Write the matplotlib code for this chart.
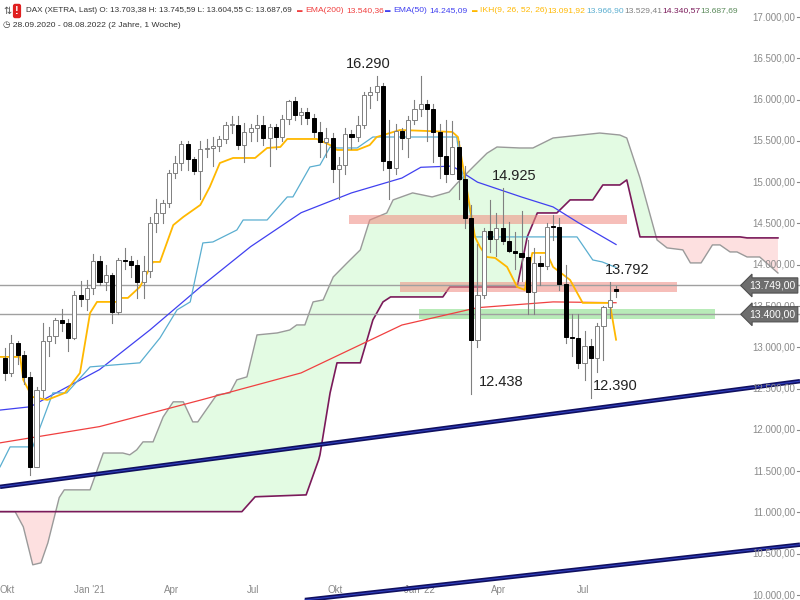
import matplotlib
matplotlib.use("Agg")
import matplotlib.pyplot as plt
from matplotlib.patches import Rectangle
import numpy as np

# ---- data: weekly DAX candles, 28.09.2020 - 08.08.2022 ----
opens = [12870, 12689, 13051, 12909, 12646, 11556, 12480, 13076, 13137, 13335, 13298, 13114, 13630, 13587,
         13719, 14049, 13787, 13873, 13432, 14056, 14050, 13993, 13786, 13920, 14502, 14621, 14749, 15107,
         15234, 15459, 15280, 15136, 15400, 15416, 15437, 15520, 15693, 15693, 15448, 15607, 15650, 15688,
         15540, 15669, 15544, 15761, 15977, 15808, 15852, 15781, 15609, 15490, 15531, 15156, 15206, 15587,
         15543, 15688, 16054, 16094, 16160, 15257, 15169, 15623, 15532, 15756, 15885, 15948, 15883, 15603,
         15318, 15100, 15425, 15042, 14567, 13094, 13628, 14413, 14306, 14446, 14284, 14164, 14142, 14098,
         13674, 14027, 13982, 14462, 14460, 13762, 13126, 13118, 12813, 13015, 12865, 13254, 13484, 13703]
closes = [12689, 13051, 12909, 12646, 11556, 12480, 13076, 13137, 13335, 13298, 13114, 13630, 13587, 13719,
          14049, 13787, 13873, 13432, 14056, 14050, 13993, 13786, 13920, 14502, 14621, 14749, 15107, 15234,
          15459, 15280, 15136, 15400, 15416, 15437, 15520, 15693, 15693, 15448, 15607, 15650, 15688, 15540,
          15669, 15544, 15761, 15977, 15808, 15852, 15781, 15609, 15490, 15531, 15156, 15206, 15587, 15543,
          15688, 16054, 16094, 16160, 15257, 15169, 15623, 15532, 15756, 15885, 15948, 15883, 15603, 15318,
          15100, 15425, 15042, 14567, 13094, 13628, 14413, 14306, 14446, 14284, 14164, 14142, 14098, 13674,
          14027, 13982, 14462, 14460, 13762, 13126, 13118, 12813, 13015, 12865, 13254, 13484, 13573, 13688]
highs = [12990, 13150, 13080, 12950, 12700, 12520, 13300, 13250, 13350, 13460, 13340, 13680, 13800, 13820,
         14130, 14100, 14000, 13900, 14080, 14200, 14110, 14060, 14100, 14580, 14800, 14780, 15150, 15320,
         15500, 15500, 15300, 15500, 15520, 15550, 15560, 15730, 15800, 15800, 15720, 15700, 15810, 15800,
         15700, 15700, 15810, 15990, 16030, 15900, 15900, 15830, 15730, 15650, 15590, 15300, 15650, 15630,
         15800, 16090, 16150, 16290, 16200, 15750, 15700, 15650, 15800, 16000, 16285, 16000, 15950, 15700,
         15750, 15740, 15500, 15200, 14720, 14250, 14450, 14780, 14630, 14925, 14520, 14400, 14650, 14300,
         14200, 14100, 14500, 14600, 14560, 14000, 13400, 13400, 13200, 13100, 13300, 13500, 13792, 13746]
lows = [12600, 12650, 12800, 12550, 11450, 11550, 12400, 12900, 13050, 13200, 12950, 13100, 13500, 13450,
        13650, 13750, 13700, 13300, 13400, 13950, 13850, 13600, 13600, 13850, 14400, 14500, 14700, 15050,
        15150, 15150, 15100, 14800, 15300, 15200, 15380, 15480, 15600, 15400, 15250, 15500, 15500, 15450,
        15200, 15400, 15500, 15700, 15750, 15700, 15700, 15550, 15300, 15300, 15000, 14800, 15100, 15400,
        15500, 15650, 15900, 16000, 15150, 14800, 15100, 15400, 15300, 15700, 15800, 15500, 15250, 15050,
        15000, 15100, 14800, 14450, 12438, 13000, 13600, 14150, 14100, 14250, 14150, 13950, 13800, 13400,
        13400, 13750, 13950, 14300, 13700, 13050, 12900, 12750, 12600, 12390, 12700, 12850, 13350, 13604]

# indicator lines: (week index, value)
ema200_w = [-0.8, 15, 31, 47, 63, 75, 87, 97]
ema200_v = [11843, 12040, 12360, 12690, 13270, 13480, 13550, 13540]
ema50_w = [-0.8, 4, 15, 23, 31, 39, 47, 55, 63, 66, 71, 75, 82, 87, 91, 97]
ema50_v = [12240, 12280, 12730, 13210, 13730, 14220, 14630, 14870, 15050, 15180, 15195, 15000, 14820, 14700, 14510, 14245]
tenkan_w = [-0.8, 2.4, 2.9, 4.3, 6.7, 9.5, 11.9, 13.5, 14.6, 17.8, 18.3, 19.5, 21.4, 23.5, 24.6, 26.7, 28.3, 31,
            32.5, 34.1, 36.2, 39.7, 41.6, 43.7, 44.8, 49.5, 51.6, 52.7, 55.9, 57.9, 59, 62.7, 71, 71.9, 74.6,
            75.4, 76.5, 77.8, 79.7, 81.3, 82.5, 83.7, 86, 87, 89.7, 91.7, 96, 97]
tenkan_v = [12884, 12884, 12605, 12400, 12363, 12448, 12690, 13416, 13550, 13550, 13598, 13598, 13731, 14034,
            14034, 14480, 14579, 14724, 14942, 15232, 15293, 15293, 15414, 15426, 15523, 15523, 15450, 15390,
            15390, 15450, 15547, 15632, 15608, 15547, 14337, 14215, 14094, 14082, 13973, 13731, 13695, 14143,
            14143, 13973, 13816, 13538, 13538, 13092]
kijun_w = [-0.8, 0.8, 4.4, 7.6, 9.8, 13.5, 21.4, 24.6, 27.3, 29.4, 31.4, 33, 36.8, 37.8, 41.6, 44.8, 45.7, 48.4,
           50, 51.6, 52.7, 55.9, 58.4, 71.7, 72.2, 74.6, 90.8, 93.3, 94.8, 97]
kijun_v = [11552, 11794, 11794, 12448, 12448, 12763, 12812, 13114, 13453, 13550, 14264, 14276, 14421, 14542,
           14542, 14821, 14821, 15184, 15208, 15426, 15414, 15414, 15547, 15547, 15270, 14337, 14337, 14058,
           14034, 13967]
spanA_w = [-0.8, 1.6, 2.9, 4.4, 5.7, 6.8, 8.6, 9.4, 13.5, 15.6, 18.7, 19.8, 20.9, 21.9, 23.5, 25.1, 26.7, 28.3,
           29.8, 30.6, 31.7, 33.6, 35.7, 36.8, 38.4, 40, 43.2, 45.2, 46.3, 47.6, 48.9, 50.5, 52.1, 54.3, 56.4,
           57.9, 60.6, 61.6, 64.7, 67.8, 70.5, 71.8, 74.3, 76.5, 78.1, 81.7, 83.8, 87, 94.4, 97.6, 98.7, 100.8,
           103.5, 105.1, 107.6, 108.8, 110.5, 112.3, 113.5, 115.1, 116.2, 117.8, 119.8, 122.7]
spanA_v = [11010, 11010, 10826, 10366, 10390, 10632, 11180, 11274, 11274, 11720, 11720, 11698, 11758, 11855,
           11855, 12157, 12340, 12340, 12097, 12097, 12218, 12424, 12448, 12606, 12642, 13150, 13174, 13210,
           13271, 13271, 13550, 13574, 13852, 14022, 14180, 14542, 14627, 14785, 14870, 14821, 14880, 14990,
           15184, 15350, 15426, 15414, 15414, 15535, 15595, 15571, 15535, 15050, 14300, 14204, 14180, 14022,
           14022, 14240, 14240, 14155, 14155, 14094, 14094, 13900]
spanB_w = [-0.8, 37.6, 39.7, 47.8, 49.8, 50, 51.6, 52.7, 56.4, 58.4, 60, 61.2, 69.5, 70.6, 81.3, 82.9, 84.5,
           87.6, 89.7, 93.3, 94.9, 97.6, 98.7, 100.8, 116.7, 117.8, 122.7]
spanB_v = [11010, 11010, 11190, 11213, 11640, 11700, 12448, 12812, 12812, 13332, 13550, 13610, 13610, 13731,
           13731, 14337, 14627, 14627, 14785, 14785, 14966, 14966, 15027, 14337, 14337, 14325, 14325]

# horizontal zones (value ranges) and levels
zones = [(54.6, 98.7, 14490, 14600, '#f08a80'), (62.7, 106.7, 13670, 13790, '#f08a80'),
         (65.7, 112.7, 13345, 13465, '#7fdc7f')]
levels = [13749, 13400]
trend1 = ([-0.8, 126.2], [11310, 12590])
trend2 = ([47.6, 126.2], [9940, 10610])
notes = [(57.6, 16290, '16.290'), (80.8, 14925, '14.925'), (98.8, 13792, '13.792'),
         (78.7, 12438, '12.438'), (96.8, 12390, '12.390')]
yticks = [10000, 10500, 11000, 11500, 12000, 12500, 13000, 13500, 14000, 14500, 15000, 15500, 16000, 16500, 17000]
xticks_w = [0.4, 13.4, 26.4, 39.4, 52.4, 65.8, 78.4, 91.7]
xticks_l = ['Okt', "Jan '21", 'Apr', 'Jul', 'Okt', "Jan '22", 'Apr', 'Jul']

plt.rcParams['font.family'] = ['Liberation Sans', 'DejaVu Sans']
fig = plt.figure(figsize=(8, 6), dpi=100)
ax = fig.add_axes([0, 0, 1, 1])
ax.set_xlim(-0.8, 126.2)
ax.set_ylim(9940, 17206)
ax.axis('off')

# cloud
g = np.linspace(-0.8, 122.7, 1200)
A = np.interp(g, spanA_w, spanA_v)
B = np.interp(g, spanB_w, spanB_v)
ax.fill_between(g, A, B, where=A >= B, color='#e3fbe3', interpolate=True, zorder=1, lw=0)
ax.fill_between(g, A, B, where=A < B, color='#fde0e0', interpolate=True, zorder=1, lw=0)
ax.plot(spanA_w, spanA_v, color='#9a9a9a', lw=1, zorder=2)
ax.plot(spanB_w, spanB_v, color='#7a1a5a', lw=1.2, zorder=2)

for x0, x1, y0, y1, c in zones:
    ax.add_patch(Rectangle((x0, y0), x1 - x0, y1 - y0, color=c, alpha=0.55, lw=0, zorder=3))
for lv in levels:
    ax.axhline(lv, color='#a0a0a0', lw=1, zorder=3)

ax.plot(ema200_w, ema200_v, color='#f04040', lw=0.9, zorder=4)
ax.plot(ema50_w, ema50_v, color='#4040f0', lw=0.9, zorder=4)
ax.plot(kijun_w, kijun_v, color='#5aaed0', lw=0.9, zorder=4)
ax.plot(tenkan_w, tenkan_v, color='#ffb800', lw=1.3, zorder=4)

for tx, ty in (trend1, trend2):
    ax.plot(tx, ty, color='#101060', lw=3.2, zorder=5, solid_capstyle='butt')
    ax.plot(tx, ty, color='#3040c0', lw=0.8, zorder=5)

# candles
n = min(len(opens), len(closes), len(highs), len(lows))
for i in range(n):
    o, c, h, l = opens[i], closes[i], highs[i], lows[i]
    ax.plot([i, i], [l, h], color='#808080', lw=0.8, zorder=6)
    up = c >= o
    ax.add_patch(Rectangle((i - 0.33, min(o, c)), 0.66, max(abs(c - o), 8),
                           facecolor='white' if up else 'black',
                           edgecolor='#808080' if up else 'black', lw=0.7, zorder=7))

for w, v, t in notes:
    ax.text(w, v + 60, t, ha='center', va='bottom', fontsize=10.5, color='#222222', zorder=8)

tr = ax.get_yaxis_transform()
for v in yticks:
    ax.text(0.994, v, f"{v // 1000}.{v % 1000:03d},00", transform=tr, ha='right', va='center',
            fontsize=7, color='#8a8a8a', zorder=9)
    ax.plot([0.996, 1.0], [v, v], transform=tr, color='#888888', lw=0.8)
for lv in levels:
    ax.text(0.994, lv, f"{lv // 1000}.{lv % 1000:03d},00", transform=tr, ha='right', va='center',
            fontsize=7.5, color='white', zorder=10,
            bbox=dict(boxstyle='larrow,pad=0.25', fc='#6e6e6e', ec='#505050', lw=0.8))

trx = ax.get_xaxis_transform()
for w, l in zip(xticks_w, xticks_l):
    ax.text(w, 0.017, l, transform=trx, ha='center', va='center', fontsize=7, color='#8a8a8a')

# header (positions in pixels)
y1 = 1 - 11 / 600
fs = 6.1
hdr = [(3, '⇅', '#555555', 7), (26, 'DAX (XETRA, Last) O: 13.703,38 H: 13.745,59 L: 13.604,55 C: 13.687,69', '#333333', 5.9),
       (297, '▬', '#f04040', 4), (305, 'EMA(200)', '#f04040', fs), (346, '13.540,36', '#f04040', fs),
       (385, '▬', '#4040f0', 4), (393, 'EMA(50)', '#4040f0', fs), (429, '14.245,09', '#4040f0', fs),
       (472, '▬', '#ffb800', 4), (480, 'IKH(9, 26, 52, 26)', '#ffb800', fs), (547, '13.091,92', '#ffb800', fs),
       (586, '13.966,90', '#5aaed0', fs), (624, '13.529,41', '#808080', fs),
       (662, '14.340,57', '#7a1a5a', fs), (700, '13.687,69', '#5a8a5a', fs)]
for x, t, c, f in hdr:
    fig.text(x / 800, y1, t, fontsize=f, color=c, va='center')
fig.text(17 / 800, y1, '!', fontsize=8, color='white', weight='bold', va='center', ha='center',
         bbox=dict(boxstyle='round,pad=0.2', fc='#e02020', ec='none'))
fig.text(3 / 800, 1 - 25 / 600, '◷ 28.09.2020 - 08.08.2022 (2 Jahre, 1 Woche)', fontsize=fs, color='#333333', va='center')

fig.savefig('out.png', dpi=100)
